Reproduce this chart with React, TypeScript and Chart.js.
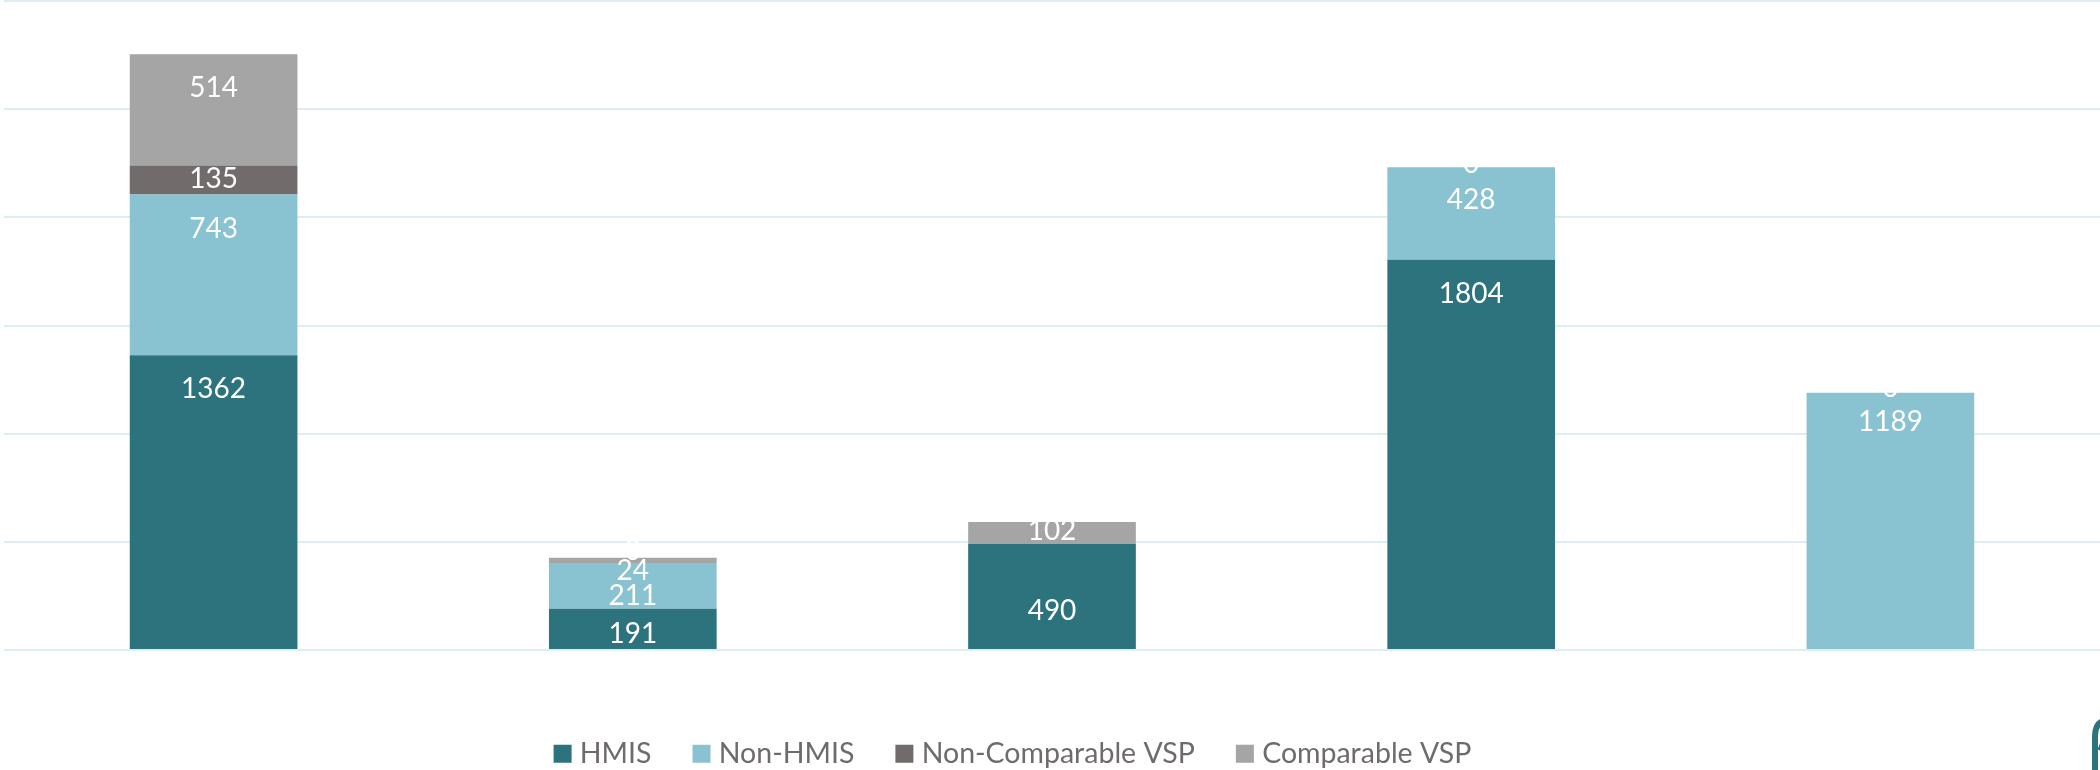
import React, { useEffect, useRef } from "react";
import { Chart, registerables } from "chart.js";

Chart.register(...registerables);

const categories = ["Group 1", "Group 2", "Group 3", "Group 4", "Group 5"];
const hmis = [1362, 191, 490, 1804, null];
const nonHmis = [743, 211, null, 428, 1189];
const nonComparableVsp = [135, 0, null, 0, 0];
const comparableVsp = [514, 24, 102, null, null];

const hmisLabelDrop = [34, 25, 67, 34, 0];
const nonHmisLabelDrop = [34, 33, 0, 33, 29];
const nonComparableLabelDrop = [14, -12, 0, -3, -5];
const comparableLabelDrop = [34, 13, 9, 0, 0];
const labelDrops = [hmisLabelDrop, nonHmisLabelDrop, nonComparableLabelDrop, comparableLabelDrop];

const FONT = "Lato, 'Open Sans', sans-serif";

const barLabels = {
  id: "barLabels",
  afterDatasetsDraw(chart: any) {
    const { ctx } = chart;
    ctx.save();
    ctx.font = `28px ${FONT}`;
    ctx.fillStyle = "#FFFFFF";
    ctx.textAlign = "center";
    ctx.textBaseline = "middle";
    chart.data.datasets.forEach((ds: any, i: number) => {
      chart.getDatasetMeta(i).data.forEach((el: any, j: number) => {
        const v = ds.data[j];
        if (v === null || v === undefined) return;
        ctx.fillText(String(v), el.x, el.y + labelDrops[i][j]);
      });
    });
    ctx.restore();
  },
};

const legendShift = {
  id: "legendShift",
  afterLayout(chart: any) {
    chart.legend.left -= 37;
    chart.legend.right -= 37;
  },
};

const cornerMark = {
  id: "cornerMark",
  afterDraw(chart: any) {
    const { ctx } = chart;
    ctx.save();
    ctx.strokeStyle = "#2D737E";
    ctx.lineWidth = 6;
    ctx.beginPath();
    ctx.moveTo(2106, 720);
    ctx.quadraticCurveTo(2095, 722, 2095, 736);
    ctx.lineTo(2095, 772);
    ctx.stroke();
    ctx.lineWidth = 3;
    ctx.beginPath();
    ctx.moveTo(2102, 742);
    ctx.lineTo(2099, 750);
    ctx.stroke();
    ctx.restore();
  },
};

export default function App() {
  const ref = useRef<HTMLCanvasElement>(null);
  useEffect(() => {
    const chart = new Chart(ref.current!, {
      type: "bar",
      data: {
        labels: categories,
        datasets: [
          { label: "HMIS", data: hmis, backgroundColor: "#2D737E" },
          { label: "Non-HMIS", data: nonHmis, backgroundColor: "#89C2D1" },
          { label: "Non-Comparable VSP", data: nonComparableVsp, backgroundColor: "#716C6B" },
          { label: "Comparable VSP", data: comparableVsp, backgroundColor: "#A5A5A5" },
        ],
      },
      options: {
        responsive: false,
        animation: false,
        layout: { padding: { left: 4, right: -1, top: 1, bottom: -8 } },
        datasets: { bar: { barPercentage: 0.4, categoryPercentage: 1 } },
        plugins: {
          title: { display: false },
          tooltip: { enabled: false },
          legend: {
            position: "bottom",
            labels: {
              boxWidth: 6,
              boxHeight: 6,
              padding: 47,
              color: "#6F6B6A",
              font: { family: FONT, size: 28.5 },
              generateLabels: (chart: any) =>
                chart.data.datasets.map((ds: any, i: number) => ({
                  text: ds.label,
                  fillStyle: ds.backgroundColor,
                  strokeStyle: ds.backgroundColor,
                  lineWidth: 12,
                  fontColor: "#6F6B6A",
                  datasetIndex: i,
                  hidden: false,
                })),
            },
          },
        },
        scales: {
          x: {
            stacked: true,
            ticks: { display: false },
            grid: { display: false },
            border: { display: false },
            afterFit: (s: any) => { s.height = 42.5; },
          },
          y: {
            stacked: true,
            min: 0,
            max: 3000,
            afterFit: (s: any) => { s.width = 0; },
            ticks: { stepSize: 500, display: false },
            grid: { color: "#DDEEF3", lineWidth: 2, drawTicks: false },
            border: { display: false },
          },
        },
      },
      plugins: [barLabels, legendShift, cornerMark],
    });
    return () => chart.destroy();
  }, []);
  return (
    <canvas
      ref={ref}
      width={2100}
      height={770}
      style={{ position: "absolute", left: 0, top: 0, display: "block" }}
    />
  );
}
